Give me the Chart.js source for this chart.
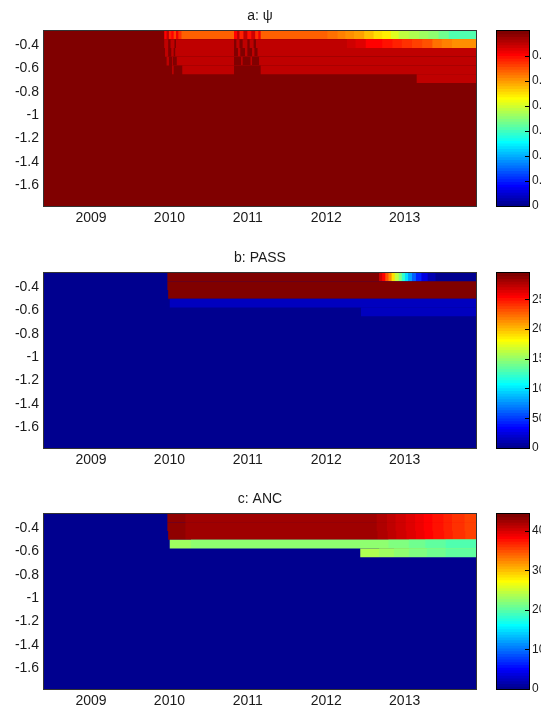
<!DOCTYPE html>
<html>
<head>
<meta charset="utf-8">
<script src="https://cdn.jsdelivr.net/npm/chart.js@4.4.1/dist/chart.umd.min.js"></script>
<style>
  html, body { margin: 0; padding: 0; background: #fff; overflow: hidden; }
  #page { position: relative; width: 541px; height: 708px; }
  canvas { position: absolute; }
</style>
</head>
<body>
<div id="page">
  <canvas id="map-a" width="480" height="225" style="left:0;top:0;width:480px;height:225px"></canvas>
  <canvas id="bar-a" width="61" height="225" style="left:480px;top:0;width:61px;height:225px"></canvas>
  <canvas id="map-b" width="480" height="225" style="left:0;top:242px;width:480px;height:225px"></canvas>
  <canvas id="bar-b" width="61" height="225" style="left:480px;top:242px;width:61px;height:225px"></canvas>
  <canvas id="map-c" width="480" height="225" style="left:0;top:483px;width:480px;height:225px"></canvas>
  <canvas id="bar-c" width="61" height="225" style="left:480px;top:483px;width:61px;height:225px"></canvas>
</div>
<script>
// time axis (decimal years) and soil layers
const timeStart = 2008.40;
const timeEnd = 2013.91;
const years = [2009, 2010, 2011, 2012, 2013];
const depthTicks = [-0.4, -0.6, -0.8, -1, -1.2, -1.4, -1.6];
const layerEdges = [-0.28, -0.355, -0.43, -0.505, -0.58, -0.655, -0.73, -0.805, -0.88, -0.955, -1.03,
                    -1.105, -1.18, -1.255, -1.33, -1.405, -1.48, -1.555, -1.63, -1.705, -1.78];

// colour limits and colorbar ticks
const psiMax = 0.698, passMax = 294, ancMax = 443;
const psiTicks = [0, 0.1, 0.2, 0.3, 0.4, 0.5, 0.6];
const passTicks = [0, 50, 100, 150, 200, 250];
const ancTicks = [0, 100, 200, 300, 400];

// each layer: [time the value starts, value], one row per layer from the top
const psiRows = [
  [[2008.40, 0.69], [2009.94, 0.61], [2009.97, 0.649], [2010.00, 0.58], [2010.03, 0.61], [2010.06, 0.56],
   [2010.09, 0.62], [2010.12, 0.575], [2010.16, 0.54], [2010.83, 0.61], [2010.87, 0.649], [2010.90, 0.58],
   [2010.95, 0.649], [2011.00, 0.595], [2011.05, 0.64], [2011.10, 0.575], [2011.14, 0.62], [2011.17, 0.54],
   [2012.02, 0.529], [2012.15, 0.518], [2012.25, 0.507], [2012.36, 0.496], [2012.49, 0.475], [2012.61, 0.458],
   [2012.72, 0.437], [2012.83, 0.409], [2012.93, 0.387], [2013.06, 0.376], [2013.19, 0.365], [2013.31, 0.355],
   [2013.44, 0.333], [2013.57, 0.311]],
  [[2008.40, 0.69], [2009.94, 0.649], [2009.99, 0.69], [2010.02, 0.649], [2010.07, 0.69], [2010.09, 0.649],
   [2010.83, 0.69], [2010.86, 0.649], [2010.90, 0.69], [2010.94, 0.649], [2011.00, 0.69], [2011.03, 0.649],
   [2011.08, 0.69], [2011.11, 0.649], [2012.27, 0.638], [2012.38, 0.627], [2012.51, 0.605], [2012.72, 0.595],
   [2012.85, 0.584], [2012.97, 0.573], [2013.10, 0.562], [2013.23, 0.551], [2013.36, 0.529], [2013.48, 0.518],
   [2013.61, 0.507]],
  [[2008.40, 0.69], [2009.95, 0.649], [2009.99, 0.69], [2010.03, 0.649], [2010.06, 0.69], [2010.08, 0.649],
   [2010.83, 0.69], [2010.88, 0.649], [2010.91, 0.69], [2010.97, 0.649], [2011.00, 0.69], [2011.06, 0.649],
   [2011.09, 0.69], [2011.13, 0.649]],
  [[2008.40, 0.69], [2009.97, 0.649], [2010.00, 0.69], [2010.04, 0.649], [2010.05, 0.69], [2010.10, 0.649],
   [2010.83, 0.69], [2010.92, 0.649], [2010.94, 0.69], [2011.04, 0.649], [2011.06, 0.69], [2011.15, 0.649]],
  [[2008.40, 0.69], [2010.04, 0.649], [2010.06, 0.69], [2010.17, 0.649], [2010.83, 0.69], [2011.17, 0.649]],
  [[2008.40, 0.69], [2013.16, 0.649]],
  [[2008.40, 0.69]], [[2008.40, 0.69]], [[2008.40, 0.69]], [[2008.40, 0.69]], [[2008.40, 0.69]],
  [[2008.40, 0.69]], [[2008.40, 0.69]], [[2008.40, 0.69]], [[2008.40, 0.69]], [[2008.40, 0.69]],
  [[2008.40, 0.69]], [[2008.40, 0.69]], [[2008.40, 0.69]], [[2008.40, 0.69]]
];

const passRows = [
  [[2008.40, 0], [2009.98, 290], [2012.68, 269], [2012.72, 255], [2012.76, 232], [2012.80, 214], [2012.84, 190],
   [2012.88, 163], [2012.93, 145], [2012.97, 122], [2013.01, 99], [2013.05, 80], [2013.10, 62], [2013.15, 44],
   [2013.22, 25], [2013.30, 11.5], [2013.40, 2]],
  [[2008.40, 0], [2009.98, 290]],
  [[2008.40, 0], [2009.99, 290]],
  [[2008.40, 0], [2010.01, 16]],
  [[2008.40, 0], [2012.45, 16]],
  [[2008.40, 0]], [[2008.40, 0]], [[2008.40, 0]], [[2008.40, 0]], [[2008.40, 0]],
  [[2008.40, 0]], [[2008.40, 0]], [[2008.40, 0]], [[2008.40, 0]], [[2008.40, 0]],
  [[2008.40, 0]], [[2008.40, 0]], [[2008.40, 0]], [[2008.40, 0]], [[2008.40, 0]]
];

const ancRows = [
  [[2008.40, 0], [2009.98, 433], [2010.21, 426], [2012.65, 419], [2012.78, 412], [2012.89, 405], [2013.02, 398],
   [2013.14, 391], [2013.25, 384], [2013.36, 377], [2013.50, 370], [2013.61, 363], [2013.77, 356]],
  [[2008.40, 0], [2009.98, 433], [2010.21, 426], [2012.65, 419], [2012.78, 412], [2012.89, 405], [2013.02, 398],
   [2013.14, 391], [2013.25, 384], [2013.36, 377], [2013.50, 370], [2013.61, 363], [2013.77, 356]],
  [[2008.40, 0], [2009.99, 433], [2010.21, 426], [2012.66, 419], [2012.79, 412], [2012.90, 405], [2013.03, 398],
   [2013.15, 391], [2013.26, 384], [2013.37, 377], [2013.51, 370], [2013.62, 363], [2013.78, 356]],
  [[2008.40, 0], [2010.01, 232], [2010.28, 225], [2012.80, 218], [2013.06, 211], [2013.27, 204], [2013.53, 197]],
  [[2008.40, 0], [2012.44, 239], [2012.68, 232], [2012.87, 225], [2013.06, 218], [2013.29, 211], [2013.53, 204]],
  [[2008.40, 0]], [[2008.40, 0]], [[2008.40, 0]], [[2008.40, 0]], [[2008.40, 0]],
  [[2008.40, 0]], [[2008.40, 0]], [[2008.40, 0]], [[2008.40, 0]], [[2008.40, 0]],
  [[2008.40, 0]], [[2008.40, 0]], [[2008.40, 0]], [[2008.40, 0]], [[2008.40, 0]]
];

Chart.defaults.font.family = '"Liberation Sans", Arial, sans-serif';
Chart.defaults.font.size = 14;
Chart.defaults.color = '#1a1a1a';

// 64-step jet colormap
function jet(v, cmax) {
  const k = Math.max(0, Math.min(63, Math.floor(v / cmax * 64)));
  const r = k < 24 ? 0 : k < 40 ? (k - 23) / 16 : k < 55 ? 1 : (71 - k) / 16;
  const g = k < 8 ? 0 : k < 24 ? (k - 7) / 16 : k < 39 ? 1 : k < 55 ? (55 - k) / 16 : 0;
  const b = k < 8 ? (k + 9) / 16 : k < 23 ? 1 : k < 39 ? (39 - k) / 16 : 0;
  return `rgb(${Math.round(r * 255)},${Math.round(g * 255)},${Math.round(b * 255)})`;
}

function framePlugin(color) {
  return {
    id: 'frame',
    afterDatasetsDraw(chart) {
      const a = chart.chartArea, ctx = chart.ctx;
      ctx.save();
      ctx.strokeStyle = color;
      ctx.lineWidth = 1;
      ctx.strokeRect(a.left - 0.5, a.top - 0.5, a.right - a.left + 1, a.bottom - a.top + 1);
      ctx.restore();
    }
  };
}

// short tick marks on the inner right edge of the colorbar
const innerTicks = {
  id: 'innerTicks',
  afterDatasetsDraw(chart) {
    const s = chart.scales.y, a = chart.chartArea, ctx = chart.ctx;
    ctx.save();
    ctx.strokeStyle = '#000';
    ctx.lineWidth = 1;
    s.ticks.forEach(t => {
      const py = Math.round(s.getPixelForValue(t.value)) + 0.5;
      ctx.beginPath();
      ctx.moveTo(a.right - 4, py);
      ctx.lineTo(a.right, py);
      ctx.stroke();
    });
    ctx.restore();
  }
};

function drawMap(id, title, rows, cmax) {
  const cells = [];
  rows.forEach((row, i) => {
    const depth = (layerEdges[i] + layerEdges[i + 1]) / 2;
    row.forEach(([t, v]) => cells.push({ x: [t, timeEnd], y: depth, v: v }));
  });

  new Chart(document.getElementById(id), {
    type: 'bar',
    data: {
      datasets: [{
        data: cells,
        backgroundColor: c => jet(c.raw.v, cmax),
        borderWidth: 0,
        categoryPercentage: 1,
        barPercentage: 1,
        inflateAmount: 0.5
      }]
    },
    options: {
      indexAxis: 'y',
      responsive: false,
      animation: false,
      layout: { padding: { left: 0, right: 4, top: 0, bottom: 0 } },
      plugins: {
        legend: { display: false },
        tooltip: { enabled: false },
        title: {
          display: true,
          text: title,
          fullSize: false,
          padding: { top: 9, bottom: 8 },
          font: { size: 14, lineHeight: 1, weight: 'normal' },
          color: '#1a1a1a'
        }
      },
      scales: {
        x: {
          type: 'linear',
          min: timeStart,
          max: timeEnd,
          grid: { display: false, drawTicks: false },
          border: { display: false },
          afterBuildTicks: s => { s.ticks = years.map(v => ({ value: v })); },
          afterFit: s => { s.height = 19; },
          ticks: { padding: 4, maxRotation: 0, autoSkip: false, callback: v => String(v) }
        },
        y: {
          type: 'linear',
          min: layerEdges[layerEdges.length - 1],
          max: layerEdges[0],
          offset: false,
          grid: { display: false, drawTicks: false },
          border: { display: false },
          afterBuildTicks: s => { s.ticks = depthTicks.map(v => ({ value: v })); },
          afterFit: s => { s.width = 44; },
          ticks: { padding: 5, autoSkip: false, callback: v => String(v) }
        }
      }
    },
    plugins: [framePlugin('#333')]
  });
}

function drawColorbar(id, cmax, ticks) {
  const levels = Array.from({ length: 64 }, (_, k) => k);
  new Chart(document.getElementById(id), {
    type: 'bar',
    data: {
      labels: ['c'],
      datasets: [{
        data: levels.map(k => ({ x: 'c', y: [k * cmax / 64, cmax] })),
        backgroundColor: levels.map(k => jet((k + 0.5) * cmax / 64, cmax)),
        borderWidth: 0,
        categoryPercentage: 1,
        barPercentage: 1,
        inflateAmount: 0.5
      }]
    },
    options: {
      responsive: false,
      animation: false,
      layout: { padding: { left: 17, right: 0, top: 31, bottom: 19 } },
      plugins: { legend: { display: false }, tooltip: { enabled: false } },
      scales: {
        x: { type: 'category', display: false },
        y: {
          type: 'linear',
          position: 'right',
          min: 0,
          max: cmax,
          grid: { display: false, drawTicks: false },
          border: { display: false },
          afterBuildTicks: s => { s.ticks = ticks.map(v => ({ value: v })); },
          afterFit: s => { s.width = 12; },
          ticks: { padding: 3, autoSkip: false, font: { size: 12 }, callback: v => String(v) }
        }
      }
    },
    plugins: [framePlugin('#000'), innerTicks]
  });
}

drawMap('map-a', 'a: ψ', psiRows, psiMax);
drawColorbar('bar-a', psiMax, psiTicks);
drawMap('map-b', 'b: PASS', passRows, passMax);
drawColorbar('bar-b', passMax, passTicks);
drawMap('map-c', 'c: ANC', ancRows, ancMax);
drawColorbar('bar-c', ancMax, ancTicks);
</script>
</body>
</html>
